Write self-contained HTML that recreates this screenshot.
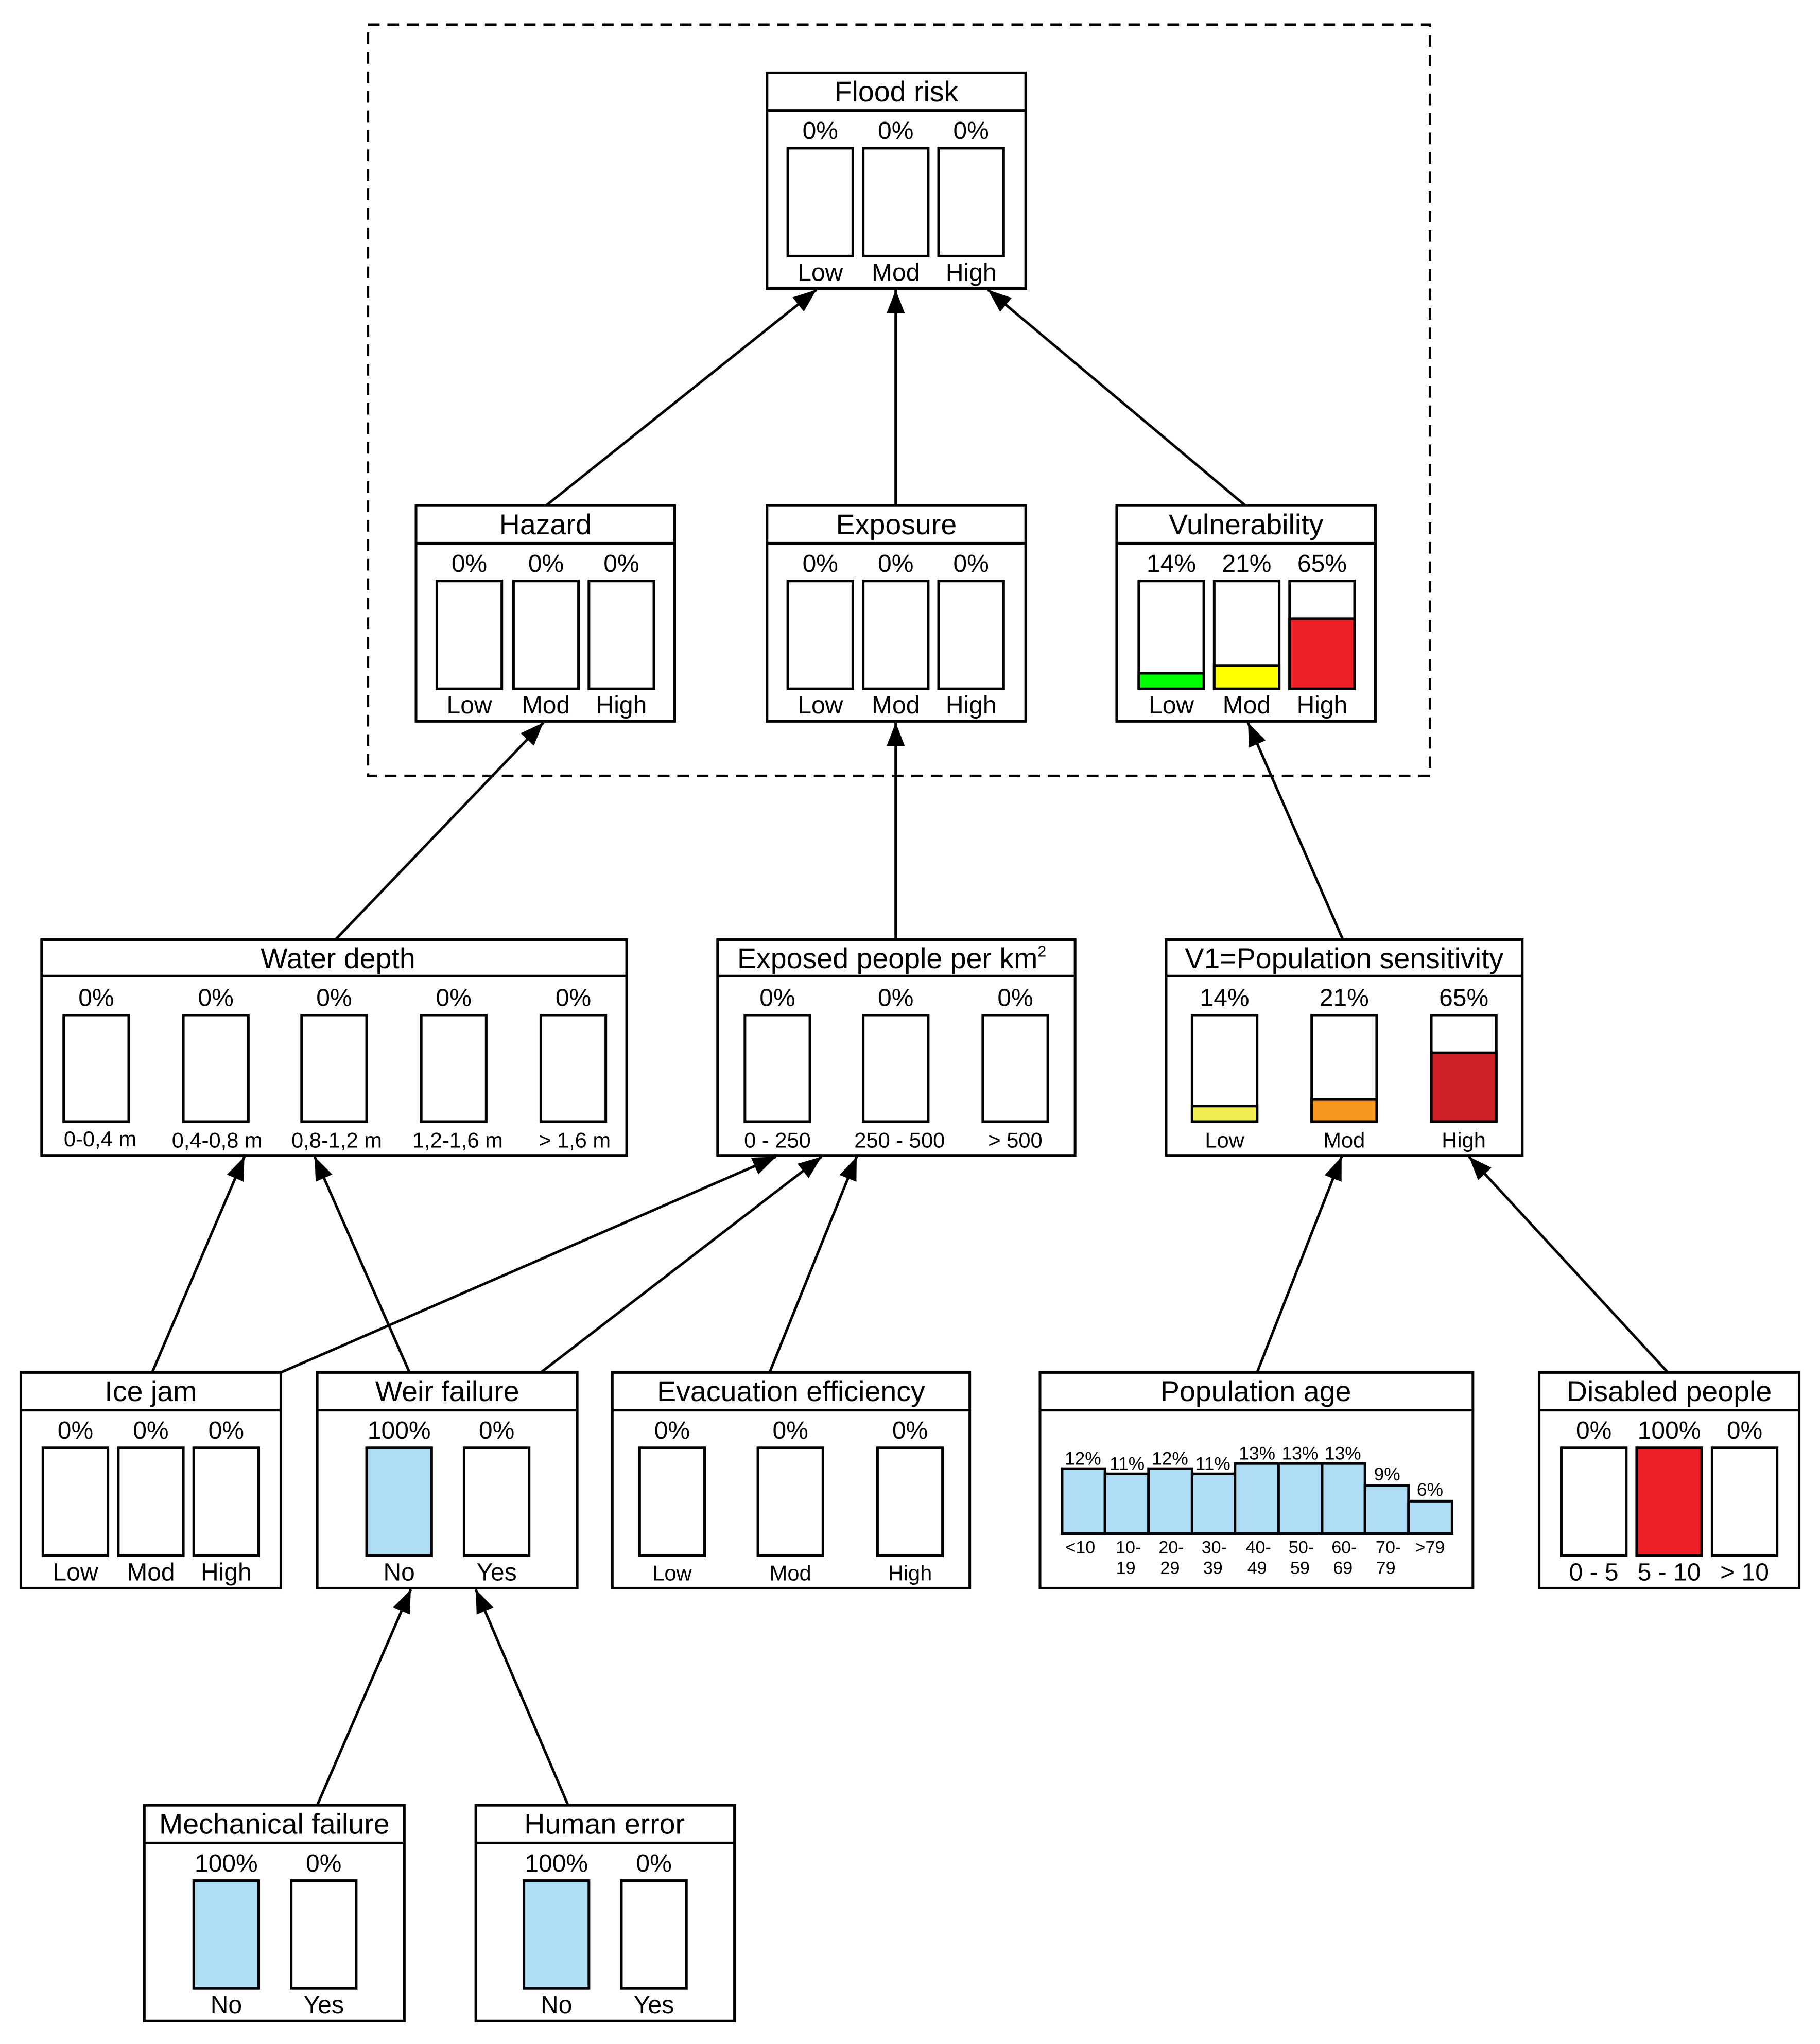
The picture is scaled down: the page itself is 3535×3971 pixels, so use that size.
<!DOCTYPE html>
<html><head><meta charset="utf-8"><style>html,body{margin:0;padding:0;background:#fff}svg{display:block}</style></head>
<body>
<svg xmlns="http://www.w3.org/2000/svg" width="3535" height="3971" viewBox="0 0 1400 1572.7" font-family="Liberation Sans, Arial, sans-serif" text-anchor="middle">
<defs>
<marker id="a" markerUnits="userSpaceOnUse" markerWidth="20" markerHeight="16" refX="18" refY="7" orient="auto"><path d="M0,0 L18,7 L0,14 z" fill="#000"/></marker>
</defs>
<rect width="1400" height="1572.7" fill="#fff"/>
<rect x="283" y="19" width="817" height="578" fill="none" stroke="#000" stroke-width="2" stroke-dasharray="9,6"/>

<g stroke="#000" stroke-width="2" fill="none" marker-end="url(#a)">
<line x1="420" y1="389" x2="628" y2="223"/>
<line x1="689" y1="389" x2="689" y2="223"/>
<line x1="958" y1="389" x2="760" y2="223"/>
<line x1="258" y1="723" x2="418" y2="556"/>
<line x1="689" y1="723" x2="689" y2="556"/>
<line x1="1033" y1="723" x2="960" y2="556"/>
<line x1="117" y1="1056" x2="188" y2="890"/>
<line x1="315" y1="1056" x2="242" y2="890"/>
<line x1="216" y1="1056" x2="597" y2="890"/>
<line x1="416" y1="1056" x2="632" y2="890"/>
<line x1="592" y1="1056" x2="659" y2="890"/>
<line x1="967" y1="1056" x2="1032" y2="890"/>
<line x1="1283" y1="1056" x2="1130" y2="890"/>
<line x1="244" y1="1389" x2="316" y2="1223"/>
<line x1="437" y1="1389" x2="366" y2="1223"/>
</g>

<g stroke="#000" stroke-width="2" fill="#fff">
<rect x="590" y="56" width="199" height="166"/><line x1="590" y1="85" x2="789" y2="85"/>
<rect x="320" y="389" width="199" height="166"/><line x1="320" y1="418" x2="519" y2="418"/>
<rect x="590" y="389" width="199" height="166"/><line x1="590" y1="418" x2="789" y2="418"/>
<rect x="859" y="389" width="199" height="166"/><line x1="859" y1="418" x2="1058" y2="418"/>
<rect x="32" y="723" width="450" height="166"/><line x1="32" y1="751" x2="482" y2="751"/>
<rect x="552" y="723" width="275" height="166"/><line x1="552" y1="751" x2="827" y2="751"/>
<rect x="897" y="723" width="274" height="166"/><line x1="897" y1="751" x2="1171" y2="751"/>
<rect x="16" y="1056" width="200" height="166"/><line x1="16" y1="1085" x2="216" y2="1085"/>
<rect x="244" y="1056" width="200" height="166"/><line x1="244" y1="1085" x2="444" y2="1085"/>
<rect x="471" y="1056" width="275" height="166"/><line x1="471" y1="1085" x2="746" y2="1085"/>
<rect x="800" y="1056" width="333" height="166"/><line x1="800" y1="1085" x2="1133" y2="1085"/>
<rect x="1184" y="1056" width="200" height="166"/><line x1="1184" y1="1085" x2="1384" y2="1085"/>
<rect x="111" y="1389" width="200" height="166"/><line x1="111" y1="1418" x2="311" y2="1418"/>
<rect x="366" y="1389" width="199" height="166"/><line x1="366" y1="1418" x2="565" y2="1418"/>

<rect x="606" y="114" width="50" height="83"/><rect x="664" y="114" width="50" height="83"/><rect x="722" y="114" width="50" height="83"/>
<rect x="336" y="447" width="50" height="83"/><rect x="395" y="447" width="50" height="83"/><rect x="453" y="447" width="50" height="83"/>
<rect x="606" y="447" width="50" height="83"/><rect x="664" y="447" width="50" height="83"/><rect x="722" y="447" width="50" height="83"/>
<rect x="876" y="447" width="50" height="83"/><rect x="934" y="447" width="50" height="83"/><rect x="992" y="447" width="50" height="83"/>
<rect x="876" y="518" width="50" height="12" fill="#00ff00"/>
<rect x="934" y="512" width="50" height="18" fill="#ffff00"/>
<rect x="992" y="476" width="50" height="54" fill="#ee1f26"/>
<rect x="49" y="781" width="50" height="82"/><rect x="141" y="781" width="50" height="82"/><rect x="232" y="781" width="50" height="82"/><rect x="324" y="781" width="50" height="82"/><rect x="416" y="781" width="50" height="82"/>
<rect x="573" y="781" width="50" height="82"/><rect x="664" y="781" width="50" height="82"/><rect x="756" y="781" width="50" height="82"/>
<rect x="917" y="781" width="50" height="82"/><rect x="1009" y="781" width="50" height="82"/><rect x="1101" y="781" width="50" height="82"/>
<rect x="917" y="851" width="50" height="12" fill="#f2ed50"/>
<rect x="1009" y="846" width="50" height="17" fill="#f7981f"/>
<rect x="1101" y="810" width="50" height="53" fill="#cd2027"/>
<rect x="33" y="1114" width="50" height="83"/><rect x="91" y="1114" width="50" height="83"/><rect x="149" y="1114" width="50" height="83"/>
<rect x="282" y="1114" width="50" height="83" fill="#b0ddf6"/><rect x="357" y="1114" width="50" height="83"/>
<rect x="492" y="1114" width="50" height="83"/><rect x="583" y="1114" width="50" height="83"/><rect x="675" y="1114" width="50" height="83"/>
<g fill="#b0ddf6">
<rect x="817" y="1130" width="33" height="50"/><rect x="850" y="1134" width="33.5" height="46"/><rect x="883.5" y="1130" width="33.5" height="50"/><rect x="917" y="1134" width="33" height="46"/><rect x="950" y="1126" width="33.5" height="54"/><rect x="983.5" y="1126" width="33.5" height="54"/><rect x="1017" y="1126" width="33" height="54"/><rect x="1050" y="1143" width="33.5" height="37"/><rect x="1083.5" y="1155" width="33.5" height="25"/>
</g>
<rect x="1201" y="1114" width="50" height="83"/><rect x="1259" y="1114" width="50" height="83" fill="#ee1f26"/><rect x="1317" y="1114" width="50" height="83"/>
<rect x="149" y="1447" width="50" height="83" fill="#b0ddf6"/><rect x="224" y="1447" width="50" height="83"/>
<rect x="403" y="1447" width="50" height="83" fill="#b0ddf6"/><rect x="478" y="1447" width="50" height="83"/>
</g>

<g font-size="22" fill="#000">
<text x="689.5" y="78">Flood risk</text>
<text x="419.5" y="411">Hazard</text>
<text x="689.5" y="411">Exposure</text>
<text x="958.5" y="411">Vulnerability</text>
<text x="260" y="745">Water depth</text>
<text x="686" y="745">Exposed people per km<tspan font-size="12" dy="-9">2</tspan></text>
<text x="1034" y="745">V1=Population sensitivity</text>
<text x="116" y="1078">Ice jam</text>
<text x="344" y="1078">Weir failure</text>
<text x="608.5" y="1078">Evacuation efficiency</text>
<text x="966" y="1078">Population age</text>
<text x="1284" y="1078">Disabled people</text>
<text x="211" y="1411">Mechanical failure</text>
<text x="465" y="1411">Human error</text>
</g>

<g font-size="19" fill="#000">
<text x="631" y="107">0%</text><text x="689" y="107">0%</text><text x="747" y="107">0%</text>
<text x="631" y="216">Low</text><text x="689" y="216">Mod</text><text x="747" y="216">High</text>
<text x="361" y="440">0%</text><text x="420" y="440">0%</text><text x="478" y="440">0%</text>
<text x="361" y="549">Low</text><text x="420" y="549">Mod</text><text x="478" y="549">High</text>
<text x="631" y="440">0%</text><text x="689" y="440">0%</text><text x="747" y="440">0%</text>
<text x="631" y="549">Low</text><text x="689" y="549">Mod</text><text x="747" y="549">High</text>
<text x="901" y="440">14%</text><text x="959" y="440">21%</text><text x="1017" y="440">65%</text>
<text x="901" y="549">Low</text><text x="959" y="549">Mod</text><text x="1017" y="549">High</text>
<text x="74" y="774">0%</text><text x="166" y="774">0%</text><text x="257" y="774">0%</text><text x="349" y="774">0%</text><text x="441" y="774">0%</text>
<text x="598" y="774">0%</text><text x="689" y="774">0%</text><text x="781" y="774">0%</text>
<text x="942" y="774">14%</text><text x="1034" y="774">21%</text><text x="1126" y="774">65%</text>
<text x="58" y="1107">0%</text><text x="116" y="1107">0%</text><text x="174" y="1107">0%</text>
<text x="58" y="1216">Low</text><text x="116" y="1216">Mod</text><text x="174" y="1216">High</text>
<text x="307" y="1107">100%</text><text x="382" y="1107">0%</text>
<text x="307" y="1216">No</text><text x="382" y="1216">Yes</text>
<text x="517" y="1107">0%</text><text x="608" y="1107">0%</text><text x="700" y="1107">0%</text>
<text x="1226" y="1107">0%</text><text x="1284" y="1107">100%</text><text x="1342" y="1107">0%</text>
<text x="1226" y="1216">0 - 5</text><text x="1284" y="1216">5 - 10</text><text x="1342" y="1216">&gt; 10</text>
<text x="174" y="1440">100%</text><text x="249" y="1440">0%</text>
<text x="174" y="1549">No</text><text x="249" y="1549">Yes</text>
<text x="428" y="1440">100%</text><text x="503" y="1440">0%</text>
<text x="428" y="1549">No</text><text x="503" y="1549">Yes</text>
</g>

<g font-size="16.5" fill="#000">
<text x="77" y="882">0-0,4 m</text><text x="167" y="883">0,4-0,8 m</text><text x="259" y="883">0,8-1,2 m</text><text x="352" y="883">1,2-1,6 m</text><text x="442" y="883">&gt; 1,6 m</text>
<text x="598" y="883">0 - 250</text><text x="692" y="883">250 - 500</text><text x="781" y="883">&gt; 500</text>
<text x="942" y="883">Low</text><text x="1034" y="883">Mod</text><text x="1126" y="883">High</text>
<text x="517" y="1216">Low</text><text x="608" y="1216">Mod</text><text x="700" y="1216">High</text>
</g>

<g font-size="14" fill="#000">
<text x="833" y="1127">12%</text><text x="867" y="1131">11%</text><text x="900" y="1127">12%</text><text x="933" y="1131">11%</text><text x="967" y="1123">13%</text><text x="1000" y="1123">13%</text><text x="1033" y="1123">13%</text><text x="1067" y="1139">9%</text><text x="1100" y="1151">6%</text>
</g>
<g font-size="13.5" fill="#000">
<text x="831" y="1195">&lt;10</text><text x="868" y="1195">10-</text><text x="901" y="1195">20-</text><text x="934" y="1195">30-</text><text x="968" y="1195">40-</text><text x="1001" y="1195">50-</text><text x="1034" y="1195">60-</text><text x="1068" y="1195">70-</text><text x="1100" y="1195">&gt;79</text>
<text x="866" y="1211">19</text><text x="900" y="1211">29</text><text x="933" y="1211">39</text><text x="967" y="1211">49</text><text x="1000" y="1211">59</text><text x="1033" y="1211">69</text><text x="1066" y="1211">79</text>
</g>
</svg>
</body></html>
